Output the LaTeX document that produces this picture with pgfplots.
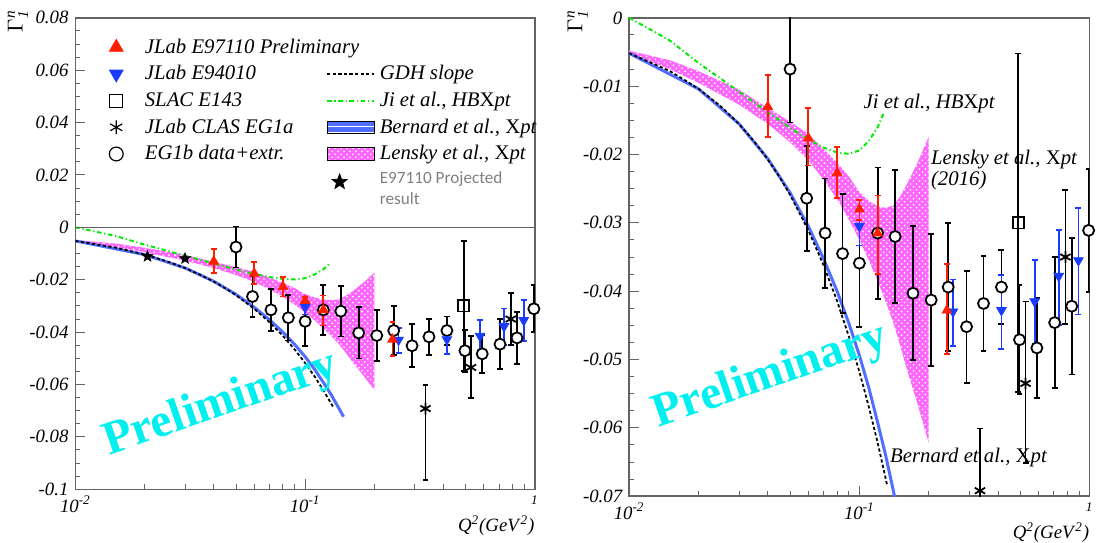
\documentclass[border=0pt]{standalone}
\usepackage{fontspec}
\setmainfont{Liberation Serif}
\newfontfamily\calib{Carlito}
\usepackage{pgfplots}
\usepackage{pgfplotstable}
\pgfplotsset{compat=1.18}
\usepgfplotslibrary{fillbetween}
\usetikzlibrary{patterns}

\definecolor{jred}{RGB}{255,30,0}
\definecolor{jblue}{RGB}{25,60,255}
\definecolor{jigreen}{RGB}{0,235,0}
\definecolor{lensky}{RGB}{255,100,255}
\definecolor{bernard}{RGB}{80,110,255}
\definecolor{prelim}{RGB}{0,240,240}
\definecolor{framec}{RGB}{100,100,100}

% filled five-pointed star
\pgfdeclareplotmark{fstar}{%
  \pgfpathmoveto{\pgfpointpolar{90}{\pgfplotmarksize}}%
  \pgfpathlineto{\pgfpointpolar{126}{0.42\pgfplotmarksize}}%
  \pgfpathlineto{\pgfpointpolar{162}{\pgfplotmarksize}}%
  \pgfpathlineto{\pgfpointpolar{198}{0.42\pgfplotmarksize}}%
  \pgfpathlineto{\pgfpointpolar{234}{\pgfplotmarksize}}%
  \pgfpathlineto{\pgfpointpolar{270}{0.42\pgfplotmarksize}}%
  \pgfpathlineto{\pgfpointpolar{306}{\pgfplotmarksize}}%
  \pgfpathlineto{\pgfpointpolar{342}{0.42\pgfplotmarksize}}%
  \pgfpathlineto{\pgfpointpolar{18}{\pgfplotmarksize}}%
  \pgfpathlineto{\pgfpointpolar{54}{0.42\pgfplotmarksize}}%
  \pgfpathclose
  \pgfusepathqfillstroke}

% JLab E97110 preliminary
\pgfplotstableread{
x y ep em
0.040 -0.0130 0.0046 0.0044
0.060 -0.0176 0.0044 0.0040
0.080 -0.0227 0.0038 0.0037
0.100 -0.0280 0.0014 0.0016
0.120 -0.0315 0.0055 0.0060
0.240 -0.0428 0.0068 0.0064
}\redtab
% JLab E94010
\pgfplotstableread{
x y ep em
0.100 -0.0305 0.0022 0.0028
0.255 -0.0430 0.0047 0.0050
0.414 -0.0428 0.0052 0.0057
0.577 -0.0415 0.0061 0.0065
0.734 -0.0378 0.0068 0.0072
0.894 -0.0355 0.0077 0.0079
}\bluetab
% EG1b data + extrapolation
\pgfplotstableread{
x y ep em
0.050 -0.0075 0.0078 0.0078
0.059 -0.0264 0.0077 0.0077
0.071 -0.0315 0.0080 0.0080
0.0845 -0.0345 0.0087 0.0087
0.100 -0.0359 0.0093 0.0093
0.120 -0.0315 0.0096 0.0096
0.143 -0.0320 0.0097 0.0097
0.171 -0.0403 0.0098 0.0098
0.205 -0.0413 0.0097 0.0097
0.243 -0.0394 0.0094 0.0094
0.292 -0.0452 0.0082 0.0082
0.346 -0.0418 0.0069 0.0069
0.414 -0.0394 0.0054 0.0054
0.496 -0.0471 0.0080 0.0080
0.590 -0.0483 0.0073 0.0073
0.705 -0.0446 0.0096 0.0096
0.836 -0.0422 0.0100 0.0100
0.990 -0.0311 0.0090 0.0090
}\egtab
% SLAC E143
\pgfplotstableread{
x y ep em
0.490 -0.0300 0.0248 0.0248
}\slactab
% CLAS EG1a
\pgfplotstableread{
x y ep em
0.334 -0.0692 0.0091 0.0274
0.527 -0.0535 0.0120 0.0117
0.785 -0.0350 0.0098 0.0098
}\clastab
% E97110 projected
\pgfplotstableread{
x y
0.0206 -0.0111
0.0300 -0.0119
}\startab
% GDH slope
\pgfplotstableread{
x y
0.010 -0.00518
0.015 -0.00777
0.020 -0.01036
0.025 -0.01295
0.030 -0.01554
0.035 -0.01813
0.040 -0.02072
0.045 -0.02331
0.050 -0.02590
0.060 -0.03108
0.070 -0.03626
0.080 -0.04144
0.090 -0.04662
0.100 -0.05180
0.110 -0.05698
0.120 -0.06216
0.132 -0.06840
}\gdhtab
% Bernard et al.
\pgfplotstableread{
x y
0.010 -0.00518
0.020 -0.0104
0.030 -0.0155
0.040 -0.0206
0.050 -0.0256
0.060 -0.0305
0.070 -0.0353
0.080 -0.0400
0.090 -0.0447
0.100 -0.0494
0.110 -0.0542
0.120 -0.0592
0.130 -0.0640
0.140 -0.0690
0.147 -0.0723
}\bertab
% Ji et al.
\pgfplotstableread{
x y
0.0100 0.0000
0.0125 -0.0018
0.0150 -0.0033
0.0200 -0.0066
0.0250 -0.0089
0.0300 -0.0108
0.0350 -0.0124
0.0400 -0.0138
0.0500 -0.0161
0.0600 -0.0178
0.0700 -0.0190
0.0800 -0.0197
0.0900 -0.0199
0.1000 -0.0194
0.1100 -0.0180
0.1200 -0.0160
0.1280 -0.0138
}\jitab
% Lensky et al. band
\pgfplotstableread{
x y
0.010 -0.0048
0.015 -0.0062
0.020 -0.0078
0.030 -0.0105
0.040 -0.0132
0.050 -0.0152
0.060 -0.0170
0.070 -0.0192
0.080 -0.0212
0.090 -0.0232
0.100 -0.0255
0.110 -0.0268
0.120 -0.0276
0.130 -0.0278
0.140 -0.0275
0.150 -0.0262
0.160 -0.0245
0.180 -0.0210
0.200 -0.0174
}\lenup
\pgfplotstableread{
x y
0.010 -0.0052
0.015 -0.0075
0.020 -0.0095
0.030 -0.0127
0.040 -0.0155
0.050 -0.0182
0.060 -0.0208
0.070 -0.0237
0.080 -0.0265
0.090 -0.0295
0.100 -0.0325
0.110 -0.0355
0.120 -0.0385
0.130 -0.0415
0.140 -0.0445
0.150 -0.0478
0.160 -0.0512
0.180 -0.0568
0.200 -0.0622
}\lenlo

\pgfplotsset{every axis/.append style={
    scale only axis, xmode=log, xmin=0.01, xmax=1,
    xtick={0.01,0.1,1},
    xticklabels={\textit{10}\textsuperscript{\textit{-2}},\textit{10}\textsuperscript{\textit{-1}},\textsuperscript{\textit{1}}},
    tick pos=left, minor y tick num=3,
    scaled y ticks=false,
    major tick length=5bp, minor tick length=2.5bp,
    tick style={color=framec, line width=0.5pt},
    axis line style={color=framec, line width=0.7pt},
    ticklabel style={font=\fontsize{9.5}{11}\selectfont\itshape},
    xlabel={\textit{Q}\textsuperscript{\textit{2}}\textit{(GeV}\textsuperscript{\textit{2}}\textit{)}},
    xlabel style={at={(axis description cs:1,0)}, anchor=north east, yshift=-13bp, inner sep=0pt, font=\fontsize{9.5}{11}\selectfont},
}}

\newcommand{\curves}{%
  \addplot[name path=lu, draw=none, forget plot] table {\lenup};
  \addplot[name path=ll, draw=none, forget plot] table {\lenlo};
  \addplot[lensky, forget plot, postaction={pattern=crosshatch dots, pattern color=white}] fill between[of=lu and ll];
  \addplot[bernard, line width=1.5pt, forget plot] table {\bertab};
  \addplot[black, line width=0.9pt, dash pattern=on 1.6bp off 1.2bp, forget plot] table {\gdhtab};
  \addplot[jigreen, line width=1pt, dash pattern=on 2.2bp off 1.4bp on 0.6bp off 1.4bp, forget plot] table {\jitab};
}
\newcommand{\datapoints}{%
  \addplot[only marks, black, mark=*, mark size=2.8pt, mark options={fill=white, line width=0.9pt},
    error bars/y dir=both, error bars/y explicit, error bars/error bar style={line width=0.9pt},
    error bars/error mark options={rotate=90, mark size=1.5pt, line width=0.9pt}, forget plot]
    table[x=x, y=y, y error plus=ep, y error minus=em] {\egtab};
  \addplot[only marks, black, mark=square, mark size=2.8pt, mark options={fill=white, line width=0.9pt},
    error bars/y dir=both, error bars/y explicit, error bars/error bar style={line width=0.9pt},
    error bars/error mark options={rotate=90, mark size=1.5pt, line width=0.9pt}, forget plot]
    table[x=x, y=y, y error plus=ep, y error minus=em] {\slactab};
  \addplot[only marks, black, mark=asterisk, mark size=3pt, mark options={line width=0.9pt},
    error bars/y dir=both, error bars/y explicit, error bars/error bar style={line width=0.9pt},
    error bars/error mark options={rotate=90, mark size=1.5pt, line width=0.9pt}, forget plot]
    table[x=x, y=y, y error plus=ep, y error minus=em] {\clastab};
  \addplot[only marks, jblue, mark=triangle*, mark size=2.8pt, mark options={rotate=180},
    error bars/y dir=both, error bars/y explicit, error bars/error bar style={line width=0.9pt},
    error bars/error mark options={rotate=90, mark size=1.5pt, line width=0.9pt}, forget plot]
    table[x=x, y=y, y error plus=ep, y error minus=em] {\bluetab};
  \addplot[only marks, jred, mark=triangle*, mark size=2.8pt,
    error bars/y dir=both, error bars/y explicit, error bars/error bar style={line width=0.9pt},
    error bars/error mark options={rotate=90, mark size=1.5pt, line width=0.9pt}, forget plot]
    table[x=x, y=y, y error plus=ep, y error minus=em] {\redtab};
}

\begin{document}
\begin{tikzpicture}

% ---------------- left panel ----------------
\begin{axis}[
  name=lft,
  at={(0,0)}, anchor=south west,
  width=231.5bp, height=237.5bp,
  ymin=-0.1, ymax=0.08,
  ytick={-0.1,-0.08,-0.06,-0.04,-0.02,0,0.02,0.04,0.06,0.08},
  yticklabels={-0.1,-0.08,-0.06,-0.04,-0.02,0,0.02,0.04,0.06,0.08},
  legend columns=2,
  legend cell align=left,
  legend style={at={(axis description cs:0.058,0.975)}, anchor=north west,
    draw=none, fill=none, font=\fontsize{10.5}{12}\selectfont\itshape,
    nodes={inner ysep=2.35pt, inner xsep=2.5pt},
    /tikz/every even column/.append style={column sep=14bp}},
]
\addlegendimage{legend image code/.code={\draw[jred, mark=triangle*, mark size=4pt] plot coordinates {(0cm,0cm)}; \path[draw=none] (-0.14cm,0cm) -- (0.42cm,0cm);}}
\addlegendentry{\rlap{JLab E97110 Preliminary}}
\addlegendimage{empty legend}
\addlegendentry{}
\addlegendimage{legend image code/.code={\draw[jblue, mark=triangle*, mark size=4pt, mark options={rotate=180}] plot coordinates {(0cm,0cm)}; \path[draw=none] (-0.14cm,0cm) -- (0.42cm,0cm);}}
\addlegendentry{JLab E94010}
\addlegendimage{legend image code/.code={\draw[black, line width=0.8pt, dash pattern=on 1.6bp off 1.2bp] (0cm,0cm) -- (0.83cm,0cm);}}
\addlegendentry{GDH slope}
\addlegendimage{legend image code/.code={\draw[black, mark=square, mark size=3.3pt, mark options={line width=0.6pt}] plot coordinates {(0cm,0cm)}; \path[draw=none] (-0.14cm,0cm) -- (0.42cm,0cm);}}
\addlegendentry{SLAC E143}
\addlegendimage{legend image code/.code={\draw[jigreen, line width=0.9pt, dash pattern=on 2.2bp off 1.4bp on 0.6bp off 1.4bp] (0cm,0cm) -- (0.83cm,0cm);}}
\addlegendentry{Ji et al., HB\textup{X}pt}
\addlegendimage{legend image code/.code={\draw[black, mark=asterisk, mark size=3.5pt, mark options={line width=0.6pt}] plot coordinates {(0cm,0cm)}; \path[draw=none] (-0.14cm,0cm) -- (0.42cm,0cm);}}
\addlegendentry{JLab CLAS EG1a}
\addlegendimage{legend image code/.code={\fill[bernard] (0cm,-0.11cm) rectangle (0.83cm,0.11cm); \fill[pattern=horizontal lines, pattern color=white] (0cm,-0.11cm) rectangle (0.83cm,0.11cm);}}
\addlegendentry{Bernard et al., \textup{X}pt}
\addlegendimage{legend image code/.code={\draw[black, mark=o, mark size=3.5pt, mark options={line width=0.6pt}] plot coordinates {(0cm,0cm)}; \path[draw=none] (-0.14cm,0cm) -- (0.42cm,0cm);}}
\addlegendentry{EG1b data+extr.}
\addlegendimage{legend image code/.code={\fill[lensky] (0cm,-0.11cm) rectangle (0.83cm,0.11cm); \fill[pattern=crosshatch dots, pattern color=white] (0cm,-0.11cm) rectangle (0.83cm,0.11cm);}}
\addlegendentry{Lensky et al., \textup{X}pt}
\addlegendimage{legend image code/.code={\path[draw=none] (0cm,0.05cm) -- (0cm,-0.25cm);}}
\addlegendentry{\rule{0pt}{14pt}}
\addlegendimage{legend image code/.code={\draw[black, mark=fstar, mark size=4pt] plot coordinates {(0.22cm,0.14cm)}; \path[draw=none] (0cm,0cm) -- (0.83cm,0cm);}}
\addlegendentry[text=gray]{\calib\upshape\fontsize{8.7}{10.5}\selectfont\shortstack[l]{E97110 Projected\\result}}

\curves
\addplot[framec, line width=0.7pt, forget plot] coordinates {(0.01,0) (1,0)};
\node[rotate=19, text=prelim, font=\fontsize{24}{24}\selectfont\bfseries] at (axis cs:0.043,-0.0677) {Preliminary};
\datapoints
\addplot[only marks, black, mark=fstar, mark size=2.8pt, forget plot] table {\startab};
\end{axis}

% ---------------- right panel ----------------
\begin{axis}[
  name=rgt,
  at={(279bp,-3.5bp)}, anchor=south west,
  width=232bp, height=241bp,
  ymin=-0.07, ymax=0,
  ytick={-0.07,-0.06,-0.05,-0.04,-0.03,-0.02,-0.01,0},
  yticklabels={-0.07,-0.06,-0.05,-0.04,-0.03,-0.02,-0.01,0},
]
\curves
\node[rotate=19, text=prelim, font=\fontsize{24}{24}\selectfont\bfseries] at (axis cs:0.041,-0.0525) {Preliminary};
\datapoints
\node[anchor=base west, inner sep=0pt, font=\fontsize{10.5}{12}\selectfont\itshape] at (axis cs:0.104,-0.0132) {Ji et al., HB\textup{X}pt};
\node[anchor=base west, inner sep=0pt, font=\fontsize{10.5}{12}\selectfont\itshape] at (axis cs:0.204,-0.0215) {Lensky et al., \textup{X}pt};
\node[anchor=base west, inner sep=0pt, font=\fontsize{10.5}{12}\selectfont\itshape] at (axis cs:0.204,-0.0246) {(2016)};
\node[anchor=base west, inner sep=0pt, font=\fontsize{10.5}{12}\selectfont\itshape] at (axis cs:0.1355,-0.0650) {Bernard et al., \textup{X}pt};
\end{axis}

% axis titles
\node[rotate=90, anchor=east, inner sep=0pt, font=\fontsize{11}{12}\selectfont] at ([xshift=-29bp, yshift=4bp]lft.north west) {$\Gamma_{\mathit{1}}^{\mathit{n}}$};
\node[rotate=90, anchor=east, inner sep=0pt, font=\fontsize{11}{12}\selectfont] at ([xshift=-26bp, yshift=4bp]rgt.north west) {$\Gamma_{\mathit{1}}^{\mathit{n}}$};
\path (-38bp,-27bp) rectangle (512bp,246.5bp);
\end{tikzpicture}
\end{document}
